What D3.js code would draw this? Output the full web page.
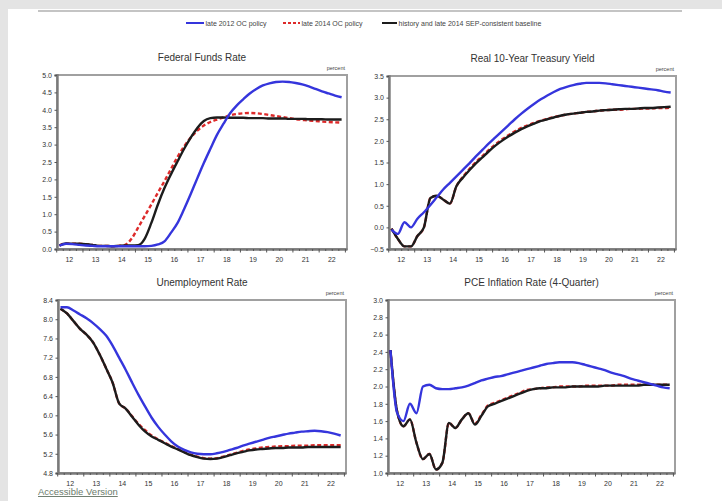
<!DOCTYPE html>
<html><head><meta charset="utf-8">
<script src="https://cdn.jsdelivr.net/npm/d3@7/dist/d3.min.js"></script>
<style>
html,body{margin:0;padding:0;background:#fff;overflow:hidden;}
svg{display:block;font-family:"Liberation Sans",Arial,sans-serif;}
</style></head><body>
<svg id="c" width="722" height="501"></svg>
<script>
// ---- categories ----
const yearLabels = ["12","13","14","15","16","17","18","19","20","21","22"];
const legendLabels = ["late 2012 OC policy","late 2014 OC policy","history and late 2014 SEP-consistent baseline"];
const panelTitles = ["Federal Funds Rate","Real 10-Year Treasury Yield","Unemployment Rate","PCE Inflation Rate (4-Quarter)"];
const unitLabel = "percent";

// ---- tick values ----
const ffTicks = [0.0,0.5,1.0,1.5,2.0,2.5,3.0,3.5,4.0,4.5,5.0];
const ryTicks = [-0.5,0.0,0.5,1.0,1.5,2.0,2.5,3.0,3.5];
const urTicks = [4.8,5.2,5.6,6.0,6.4,6.8,7.2,7.6,8.0,8.4];
const pceTicks = [1.0,1.2,1.4,1.6,1.8,2.0,2.2,2.4,2.6,2.8,3.0];

// ---- series: quarterly 2012Q1 .. 2022Q4 ----
const ffBlue = [0.10,0.15,0.14,0.12, 0.10,0.09,0.08,0.08, 0.08,0.08,0.08,0.08, 0.08,0.08,0.09,0.13,
  0.22,0.47,0.75,1.15, 1.58,2.03,2.47,2.88, 3.28,3.60,3.90,4.12, 4.30,4.47,4.60,4.70,
  4.76,4.80,4.81,4.80, 4.77,4.73,4.67,4.60, 4.53,4.47,4.41,4.36];
const ffRed = [0.10,0.16,0.15,0.15, 0.14,0.12,0.09,0.09, 0.08,0.09,0.12,0.30, 0.62,0.95,1.28,1.62,
  1.95,2.30,2.65,2.95, 3.20,3.40,3.55,3.65, 3.72,3.78,3.84,3.88, 3.90,3.91,3.90,3.88,
  3.85,3.82,3.79,3.76, 3.73,3.71,3.69,3.68, 3.66,3.65,3.64,3.63];
const ffBlack = [0.10,0.16,0.15,0.15, 0.14,0.12,0.09,0.09, 0.08,0.09,0.10,0.10, 0.11,0.30,0.75,1.28,
  1.75,2.15,2.52,2.88, 3.20,3.48,3.68,3.76, 3.78,3.78,3.77,3.77, 3.77,3.76,3.76,3.76,
  3.75,3.75,3.75,3.74, 3.74,3.74,3.73,3.73, 3.73,3.72,3.72,3.72];

const ryBlue = [-0.05,-0.15,0.12,0.00, 0.20,0.35,0.52,0.70, 0.88,1.03,1.18,1.33, 1.48,1.64,1.79,1.94,
  2.08,2.22,2.36,2.50, 2.63,2.75,2.86,2.96, 3.05,3.13,3.20,3.25, 3.29,3.32,3.34,3.34,
  3.34,3.33,3.31,3.29, 3.27,3.25,3.23,3.21, 3.19,3.17,3.14,3.12];
const ryRed = [-0.03,-0.27,-0.44,-0.44, -0.20,0.00,0.68,0.73, 0.64,0.55,0.95,1.17, 1.35,1.51,1.65,1.79,
  1.92,2.03,2.13,2.22, 2.30,2.36,2.42,2.47, 2.51,2.55,2.58,2.61, 2.63,2.65,2.67,2.68,
  2.70,2.71,2.72,2.72, 2.73,2.74,2.74,2.75, 2.75,2.76,2.76,2.77];
const ryBlack = [-0.03,-0.27,-0.44,-0.44, -0.20,0.00,0.68,0.73, 0.64,0.55,0.95,1.15, 1.32,1.48,1.62,1.76,
  1.89,2.00,2.10,2.19, 2.27,2.34,2.40,2.46, 2.50,2.54,2.58,2.61, 2.63,2.65,2.67,2.68,
  2.70,2.71,2.72,2.73, 2.74,2.74,2.75,2.76, 2.76,2.77,2.78,2.79];

const urBlue = [8.25,8.25,8.18,8.10, 8.02,7.92,7.80,7.66, 7.45,7.20,6.95,6.68, 6.42,6.18,5.95,5.76,
  5.60,5.46,5.35,5.28, 5.23,5.20,5.19,5.19, 5.21,5.24,5.28,5.32, 5.37,5.41,5.45,5.49,
  5.53,5.56,5.59,5.62, 5.64,5.66,5.67,5.68, 5.67,5.65,5.62,5.58];
const urRed = [8.22,8.12,7.96,7.80, 7.68,7.52,7.27,6.98, 6.68,6.25,6.14,5.98, 5.82,5.69,5.58,5.50,
  5.43,5.36,5.30,5.24, 5.18,5.14,5.11,5.10, 5.11,5.14,5.18,5.22, 5.26,5.29,5.31,5.33,
  5.34,5.35,5.36,5.36, 5.37,5.37,5.37,5.38, 5.38,5.38,5.38,5.38];
const urBlack = [8.22,8.12,7.96,7.80, 7.68,7.52,7.27,6.98, 6.68,6.25,6.14,5.97, 5.80,5.66,5.56,5.49,
  5.42,5.35,5.29,5.23, 5.17,5.13,5.10,5.09, 5.10,5.13,5.17,5.21, 5.24,5.27,5.29,5.30,
  5.31,5.32,5.32,5.33, 5.33,5.33,5.34,5.34, 5.34,5.34,5.34,5.34];

const pceBlue = [2.42,1.70,1.60,1.80, 1.69,2.00,2.02,1.98, 1.97,1.97,1.98,1.99, 2.01,2.04,2.07,2.09,
  2.11,2.12,2.14,2.16, 2.18,2.20,2.22,2.24, 2.26,2.27,2.28,2.28, 2.28,2.27,2.25,2.23,
  2.21,2.19,2.16,2.14, 2.12,2.09,2.07,2.05, 2.03,2.01,1.99,1.98];
const pceRed = [2.42,1.72,1.54,1.62, 1.35,1.16,1.22,1.04, 1.12,1.58,1.52,1.62, 1.69,1.57,1.67,1.78,
  1.81,1.84,1.87,1.90, 1.93,1.96,1.97,1.98, 1.99,1.99,2.00,2.00, 2.00,2.00,2.01,2.01,
  2.01,2.01,2.01,2.02, 2.02,2.02,2.02,2.02, 2.02,2.02,2.02,2.02];
const pceBlack = [2.42,1.72,1.54,1.62, 1.35,1.16,1.22,1.04, 1.12,1.58,1.52,1.62, 1.69,1.56,1.66,1.77,
  1.80,1.83,1.86,1.89, 1.92,1.95,1.97,1.98, 1.98,1.99,1.99,1.99, 2.00,2.00,2.00,2.00,
  2.00,2.01,2.01,2.01, 2.01,2.01,2.01,2.02, 2.02,2.02,2.02,2.02];

// ---- build ----
const firstYear = 2012;
const quarterTimes = d3.range(ffBlack.length).map(i => firstYear + 0.125 + i * 0.25);
const colors = {blue:"#3535dc", red:"#dd2a2a", black:"#1c1c1c"};

const svg = d3.select("#c");
svg.append("rect").attr("x",0).attr("y",0).attr("width",722).attr("height",501).attr("fill","#ffffff");
svg.append("rect").attr("x",0).attr("y",0).attr("width",722).attr("height",9).attr("fill","#e4e4e4");
svg.append("rect").attr("x",0).attr("y",0).attr("width",8).attr("height",501).attr("fill","#e4e4e4");
svg.append("line").attr("x1",38).attr("x2",682).attr("y1",11).attr("y2",11).attr("stroke","#c4c4c4").attr("stroke-width",2);

// legend
const legend = svg.append("g");
const legendItems = [
  {label: legendLabels[0], color: colors.blue, dash: null, x0: 186, x1: 204},
  {label: legendLabels[1], color: colors.red, dash: "3,2", x0: 283, x1: 300},
  {label: legendLabels[2], color: colors.black, dash: null, x0: 382, x1: 397}
];
legendItems.forEach(d => {
  legend.append("line").attr("x1",d.x0).attr("x2",d.x1).attr("y1",23).attr("y2",23)
    .attr("stroke",d.color).attr("stroke-width",2).attr("stroke-dasharray",d.dash);
  legend.append("text").attr("x",d.x1+1.5).attr("y",25.5).attr("font-size",7).attr("fill","#444").text(d.label);
});

const panels = [
  {title: panelTitles[0], left:57, top:75, right:347, bottom:249, domain:[0,5], ticks:ffTicks, series:[ffRed, ffBlack, ffBlue]},
  {title: panelTitles[1], left:389, top:76, right:676, bottom:249, domain:[-0.5,3.5], ticks:ryTicks, series:[ryRed, ryBlack, ryBlue]},
  {title: panelTitles[2], left:58, top:300, right:346, bottom:473, domain:[4.8,8.4], ticks:urTicks, series:[urRed, urBlack, urBlue]},
  {title: panelTitles[3], left:388, top:300, right:675, bottom:473, domain:[1.0,3.0], ticks:pceTicks, series:[pceRed, pceBlack, pceBlue]}
];
const seriesStyle = [
  {color: colors.red, dash: "4,2.5"},
  {color: colors.black, dash: null},
  {color: colors.blue, dash: null}
];

panels.forEach((p, pi) => {
  const g = svg.append("g");
  const x = d3.scaleLinear().domain([2012.03, 2023.08]).range([p.left, p.right]);
  const y = d3.scaleLinear().domain(p.domain).range([p.bottom, p.top]);

  g.append("text").attr("x",(p.left+p.right)/2).attr("y",p.top-14.5).attr("text-anchor","middle")
    .attr("font-size",10).attr("fill","#333").text(p.title);
  g.append("text").attr("x",p.right-2).attr("y",p.top-5).attr("text-anchor","end")
    .attr("font-size",5.5).attr("fill","#444").text(unitLabel);

  g.append("rect").attr("x",p.left).attr("y",p.top).attr("width",p.right-p.left).attr("height",p.bottom-p.top)
    .attr("fill","#fff").attr("stroke","#a0a0a0").attr("stroke-width",2);

  const clipId = "clip"+pi;
  svg.append("clipPath").attr("id",clipId).append("rect")
    .attr("x",p.left+1).attr("y",p.top+1).attr("width",p.right-p.left-2).attr("height",p.bottom-p.top-2);

  const yAxis = d3.axisLeft(y).tickValues(p.ticks).tickFormat(d3.format(".1f")).tickSize(2.5).tickPadding(2.5);
  const ya = g.append("g").attr("transform",`translate(${p.left},0)`).call(yAxis);
  ya.select(".domain").attr("stroke","#7a7a7a").attr("stroke-width",2.4);
  ya.selectAll(".tick line").attr("stroke","#555");
  ya.selectAll(".tick text").attr("font-size",7).attr("fill","#333").attr("font-family","Liberation Sans, Arial, sans-serif");

  const qTicks = d3.range(2012, 2023.01, 0.25);
  const xAxis = d3.axisBottom(x).tickValues(qTicks).tickFormat("").tickSizeInner(2).tickSizeOuter(0);
  const xa = g.append("g").attr("transform",`translate(0,${p.bottom})`).call(xAxis);
  xa.select(".domain").attr("stroke","#7a7a7a").attr("stroke-width",2.4);
  xa.selectAll(".tick line").attr("stroke","#555").attr("y2", d => Number.isInteger(d) ? 3.5 : 2);
  g.selectAll(".yl").data(yearLabels).enter().append("text")
    .attr("x",(d,i)=>x(firstYear+i+0.5)).attr("y",p.bottom+12.5).attr("text-anchor","middle")
    .attr("font-size",7).attr("fill","#333").text(d=>d);

  const line = d3.line().x((d,i)=>x(quarterTimes[i])).y(d=>y(d)).curve(d3.curveMonotoneX);
  const lg = g.append("g").attr("clip-path",`url(#${clipId})`);
  p.series.forEach((s, si) => {
    lg.append("path").attr("d", line(s)).attr("fill","none")
      .attr("stroke", seriesStyle[si].color).attr("stroke-width",2.4)
      .attr("stroke-dasharray", seriesStyle[si].dash).attr("stroke-linejoin","round");
  });
});

svg.append("text").attr("x",38).attr("y",495).attr("font-size",9.5).attr("fill","#6b7a6b")
  .attr("text-decoration","underline").text("Accessible Version");
</script>
</body></html>
